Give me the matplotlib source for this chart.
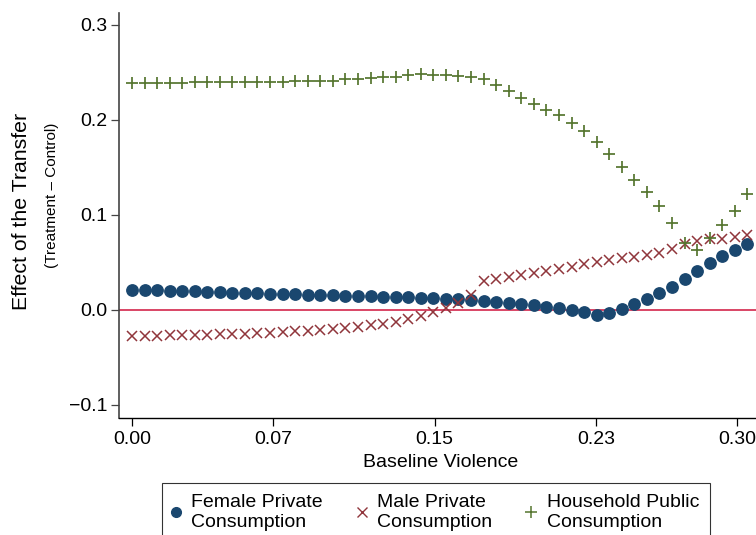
import matplotlib
matplotlib.use('Agg')
import matplotlib.pyplot as plt
from matplotlib.lines import Line2D
from matplotlib.ticker import FuncFormatter

plt.rcParams['font.family'] = ['Liberation Sans', 'DejaVu Sans']

# grid of baseline violence values at which the effects were evaluated
baseline_violence = [
    0.0000, 0.0062, 0.0124, 0.0187, 0.0249, 0.0311, 0.0373, 0.0436, 0.0498, 0.0560,
    0.0622, 0.0685, 0.0747, 0.0809, 0.0871, 0.0934, 0.0996, 0.1058, 0.1120, 0.1183,
    0.1245, 0.1307, 0.1369, 0.1432, 0.1494, 0.1556, 0.1618, 0.1681, 0.1743, 0.1805,
    0.1867, 0.1930, 0.1992, 0.2054, 0.2116, 0.2179, 0.2241, 0.2303, 0.2365, 0.2428,
    0.2490, 0.2552, 0.2614, 0.2677, 0.2739, 0.2801, 0.2863, 0.2926, 0.2988, 0.3050,
]

female_private = [
    0.0214, 0.0210, 0.0206, 0.0203, 0.0199, 0.0195, 0.0192, 0.0188, 0.0184, 0.0181,
    0.0177, 0.0173, 0.0170, 0.0166, 0.0162, 0.0159, 0.0155, 0.0151, 0.0148, 0.0144,
    0.0140, 0.0136, 0.0132, 0.0127, 0.0123, 0.0118, 0.0112, 0.0103, 0.0095, 0.0087,
    0.0075, 0.0061, 0.0049, 0.0035, 0.0020, 0.0002, -0.0026, -0.0050, -0.0032, 0.0010,
    0.0060, 0.0119, 0.0180, 0.0246, 0.0324, 0.0415, 0.0490, 0.0570, 0.0631, 0.0695,
]

male_private = [
    -0.0274, -0.0272, -0.0270, -0.0268, -0.0266, -0.0263, -0.0260, -0.0256, -0.0252, -0.0248,
    -0.0243, -0.0238, -0.0232, -0.0225, -0.0218, -0.0210, -0.0200, -0.0189, -0.0175, -0.0160,
    -0.0143, -0.0123, -0.0096, -0.0060, -0.0025, 0.0018, 0.0077, 0.0158, 0.0300, 0.0323,
    0.0344, 0.0365, 0.0386, 0.0408, 0.0430, 0.0453, 0.0488, 0.0509, 0.0526, 0.0544,
    0.0558, 0.0583, 0.0605, 0.0640, 0.0690, 0.0722, 0.0745, 0.0752, 0.0766, 0.0786,
]

household_public = [
    0.2393, 0.2393, 0.2393, 0.2393, 0.2393, 0.2396, 0.2396, 0.2396, 0.2396, 0.2396,
    0.2400, 0.2400, 0.2400, 0.2407, 0.2407, 0.2414, 0.2414, 0.2428, 0.2428, 0.2445,
    0.2449, 0.2456, 0.2470, 0.2484, 0.2477, 0.2470, 0.2460, 0.2456, 0.2435, 0.2365,
    0.2300, 0.2230, 0.2170, 0.2110, 0.2050, 0.1970, 0.1880, 0.1770, 0.1640, 0.1505,
    0.1370, 0.1240, 0.1090, 0.0916, 0.0705, 0.0628, 0.0758, 0.0898, 0.1039, 0.1225,
]

series_labels = [
    'Female Private\nConsumption',
    'Male Private\nConsumption',
    'Household Public\nConsumption',
]
x_ticks = [0.00, 0.07, 0.15, 0.23, 0.30]
y_ticks = [-0.1, 0.0, 0.1, 0.2, 0.3]

navy = '#1a476f'
maroon = '#90353b'
green = '#55752f'

W, H = 756, 535
fig = plt.figure(figsize=(W / 100, H / 100), dpi=100)
# plot region runs a little past the right edge of the canvas
ax = fig.add_axes([119 / W, 117 / H, 644 / W, 405 / H])

ax.axhline(0, color='#d0143c', lw=1.1, zorder=1)

ax.plot(baseline_violence, female_private, ls='none', marker='o', ms=8.2,
        color=navy, mec=navy, zorder=3)
ax.plot(baseline_violence, male_private, ls='none', marker='x', ms=7.8,
        mew=1.1, color=maroon, zorder=3)
ax.plot(baseline_violence, household_public, ls='none', marker='+', ms=8.5,
        mew=1.25, color=green, zorder=3)

ax.set_xlim(-0.00645, 0.3128)
ax.set_ylim(-0.1137, 0.3126)

ax.set_xticks(x_ticks)
ax.set_yticks(y_ticks)
ax.xaxis.set_major_formatter(FuncFormatter(lambda v, p: f'{v:.2f}'))
ax.yaxis.set_major_formatter(
    FuncFormatter(lambda v, p: f'{v:.1f}'.replace('-', '\u2212')))
ax.tick_params(axis='both', labelsize=14, direction='out', length=5.5, width=0.9)
ax.tick_params(axis='y', colors='#444444', labelcolor='black', pad=3)
ax.tick_params(axis='x', pad=4)

for side in ('top', 'right'):
    ax.spines[side].set_visible(False)
ax.spines['left'].set_color('#444444')
ax.spines['left'].set_linewidth(1.2)
ax.spines['bottom'].set_linewidth(1.0)

ax.set_xlabel('Baseline Violence', fontsize=14, labelpad=4)

# two-line y title with a smaller subtitle
fig.text(22 / W, 1 - 211 / H, 'Effect of the Transfer', rotation=90,
         ha='center', va='center', fontsize=15.3)
fig.text(52 / W, 1 - 195 / H, '(Treatment \u2013 Control)', rotation=90,
         ha='center', va='center', fontsize=11)

handles = [
    Line2D([], [], ls='none', marker='o', ms=7, color=navy),
    Line2D([], [], ls='none', marker='x', ms=7.5, mew=1.0, color=maroon),
    Line2D([], [], ls='none', marker='+', ms=8, mew=1.1, color=green),
]
leg = fig.legend(handles, series_labels, loc='upper left',
                 bbox_to_anchor=(162 / W, 1 - 483 / H), ncol=3, fontsize=14,
                 frameon=True, fancybox=False, edgecolor='black',
                 borderpad=0.55, borderaxespad=0, handlelength=0.3,
                 handletextpad=0.64, columnspacing=1.86)
leg.get_frame().set_linewidth(0.8)
for t in leg.get_texts():
    t.set_linespacing(1.22)

fig.savefig('out.png', dpi=100)
